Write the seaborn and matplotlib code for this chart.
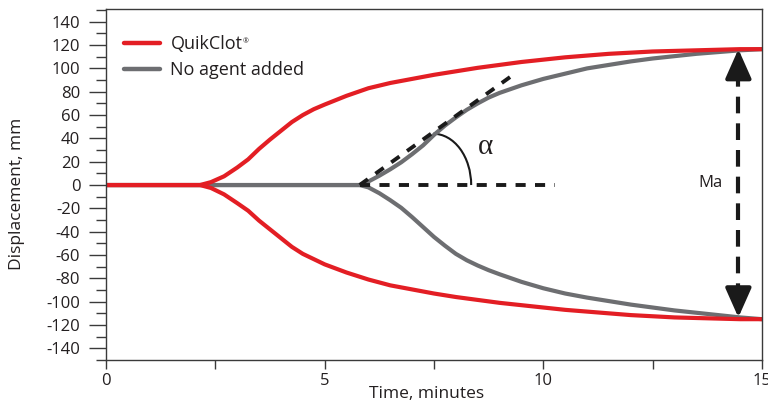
import numpy as np
import pandas as pd
import matplotlib
matplotlib.use("Agg")
import matplotlib.pyplot as plt
from matplotlib.patches import Arc
from matplotlib.lines import Line2D
import seaborn as sns

# ---- data ----
red_time = [0, 1, 2, 2.15, 2.4, 2.7, 3, 3.25, 3.5, 3.75, 4, 4.25, 4.5, 4.75, 5, 5.5, 6, 6.5,
            7, 7.5, 8, 8.5, 9, 9.5, 10, 10.5, 11, 11.5, 12, 12.5, 13, 13.5, 14, 14.5, 15]
quikclot_upper = [0, 0, 0, 0, 2.5, 7.5, 15, 22, 31, 39, 46.5, 54, 60, 65, 69, 76.5, 83, 87.5,
                  91, 94.5, 97.5, 100.5, 103, 105.5, 107.5, 109.5, 111, 112.5, 113.5, 114.5, 115, 115.5, 116, 116.5, 116.5]
quikclot_lower = [0, 0, 0, 0, -2.5, -8, -15.5, -22, -30.5, -38, -45.5, -53, -59, -63.5, -68, -75, -81, -86,
                  -89.5, -93, -96, -98.5, -101, -103, -105, -107, -108.5, -110, -111.5, -112.5, -113.5, -114, -114.5, -115, -115]

gray_time = [0, 2, 4, 5.5, 5.8, 6, 6.25, 6.5, 6.75, 7, 7.25, 7.5, 7.75, 8, 8.25, 8.5, 8.75, 9,
             9.5, 10, 10.5, 11, 11.5, 12, 12.5, 13, 13.5, 14, 14.5, 15]
noagent_upper = [0, 0, 0, 0, 0, 3, 8, 13.5, 19.5, 26.5, 34, 43, 51, 58, 64.5, 70, 75, 79,
                 85.5, 91, 95.5, 100, 103, 106, 108.5, 110.5, 112.5, 114, 115.5, 116.5]
noagent_lower = [0, 0, 0, 0, 0, -2, -7, -13, -19.5, -27.5, -36, -44.5, -52, -59, -64.5, -69, -73, -76.5,
                 -83, -88.5, -93, -96.5, -99.5, -102.5, -105, -107.5, -109.5, -111.5, -113.5, -115]

series_names = ["QuikClot", "No agent added"]
series_colors = ["#E31E24", "#6D6E71"]
x_ticks = [0, 2.5, 5, 7.5, 10, 12.5, 15]
x_ticklabels = ["0", "", "5", "", "10", "", "15"]
y_major = list(range(-140, 141, 20))
y_minor = list(range(-150, 151, 10))

# tangent (alpha) construction and amplitude (Ma)
tangent_t = [5.8, 9.31]
tangent_y = [0, 94.5]
baseline_t = [5.8, 10.27]
baseline_y = [0, 0]
ma_t = 14.46
ma_top, ma_bottom = 116.5, -113.5

TXT = "#231F20"
INK = "#1a1a1a"

# ---- long-form table ----
rows = []
for name, tt, up, lo in [(series_names[1], gray_time, noagent_upper, noagent_lower),
                         (series_names[0], red_time, quikclot_upper, quikclot_lower)]:
    for t, v in zip(tt, up):
        rows.append((name, "upper", t, v))
    for t, v in zip(tt, lo):
        rows.append((name, "lower", t, v))
df = pd.DataFrame(rows, columns=["agent", "side", "time", "disp"])

sns.set_theme(style="white")
plt.rcParams["font.family"] = ["Open Sans", "DejaVu Sans"]

fig = plt.figure(figsize=(7.68, 4.05), dpi=100)
ax = fig.add_axes([106 / 768, 1 - 360 / 405, 656 / 768, 350.5 / 405])

pal = dict(zip(series_names, series_colors))
sns.lineplot(data=df[df.agent == series_names[1]], x="time", y="disp", units="side",
             estimator=None, color=pal[series_names[1]], linewidth=3, ax=ax, legend=False)
sns.lineplot(data=df[df.agent == series_names[0]], x="time", y="disp", units="side",
             estimator=None, color=pal[series_names[0]], linewidth=3, ax=ax, legend=False)

# dashed construction lines
ax.plot(tangent_t, tangent_y, color=INK, lw=2.8, dashes=(2.6, 2.4))
ax.plot(baseline_t, baseline_y, color=INK, lw=2.8, dashes=(2.6, 2.4))
ax.add_patch(Arc((7.48, 0), 1.74, 88, theta1=0, theta2=90, color=INK, lw=1.5))
ax.text(8.67, 33, "α", fontsize=21, ha="center", va="center", color=TXT,
        family=["Liberation Serif", "DejaVu Serif"])

# Ma double arrow
ax.plot([ma_t, ma_t], [ma_top - 18, ma_bottom + 18], color=INK, lw=3, dashes=(4, 2.4))
for tip, tail in [(ma_top, ma_top - 25), (ma_bottom, ma_bottom + 25)]:
    ax.annotate("", xy=(ma_t, tip), xytext=(ma_t, tail),
                arrowprops=dict(arrowstyle="-|>,head_length=0.9,head_width=0.4",
                                mutation_scale=20, color=INK, lw=3,
                                shrinkA=0, shrinkB=0))
ax.text(13.82, 2, "Ma", fontsize=12, ha="center", va="center", color=TXT)

# axes styling
ax.set_xlim(0, 15)
ax.set_ylim(-150, 150.5)
ax.set_xticks(x_ticks)
ax.set_xticklabels(x_ticklabels)
ax.set_yticks(y_major)
ax.set_yticks(y_minor, minor=True)
ax.set_yticklabels([str(v) for v in y_major])
ax.tick_params(axis="x", direction="out", length=6.5, width=1, color="#3a3a3a",
               labelsize=12, pad=3, bottom=True, labelcolor=TXT)
ax.tick_params(axis="y", which="major", direction="out", length=12, width=1,
               color="#3a3a3a", labelsize=12, pad=6.5, left=True, labelcolor=TXT)
ax.tick_params(axis="y", which="minor", direction="out", length=7.2, width=1,
               color="#3a3a3a", left=True)
for s in ax.spines.values():
    s.set_visible(True)
    s.set_color("#3a3a3a")
    s.set_linewidth(1)
ax.set_xlabel("Time, minutes", fontsize=12.5, color=TXT)
ax.set_ylabel("Displacement, mm", fontsize=12.5, color=TXT)
ax.xaxis.set_label_coords(0.488, -0.075)
ax.yaxis.set_label_coords(-0.1235, 0.475)
ax.grid(False)

# legend
handles = [Line2D([0], [0], color=series_colors[0], lw=3.2),
           Line2D([0], [0], color=series_colors[1], lw=3.2)]
leg = ax.legend(handles, series_names, loc="upper left", bbox_to_anchor=(0.006, 0.968),
                frameon=False, fontsize=13, handlelength=2.0, handletextpad=0.55,
                labelspacing=0.45, labelcolor=TXT, borderaxespad=0.4)

# small registered mark after "QuikClot"
fig.canvas.draw()
bb = leg.get_texts()[0].get_window_extent(fig.canvas.get_renderer())
inv = fig.transFigure.inverted()
fx, fy = inv.transform((bb.x1 + 0.5, bb.y1 - 3))
fig.text(fx, fy, "®", fontsize=5, color=TXT, ha="left", va="top")

fig.savefig("out.png", dpi=100)
